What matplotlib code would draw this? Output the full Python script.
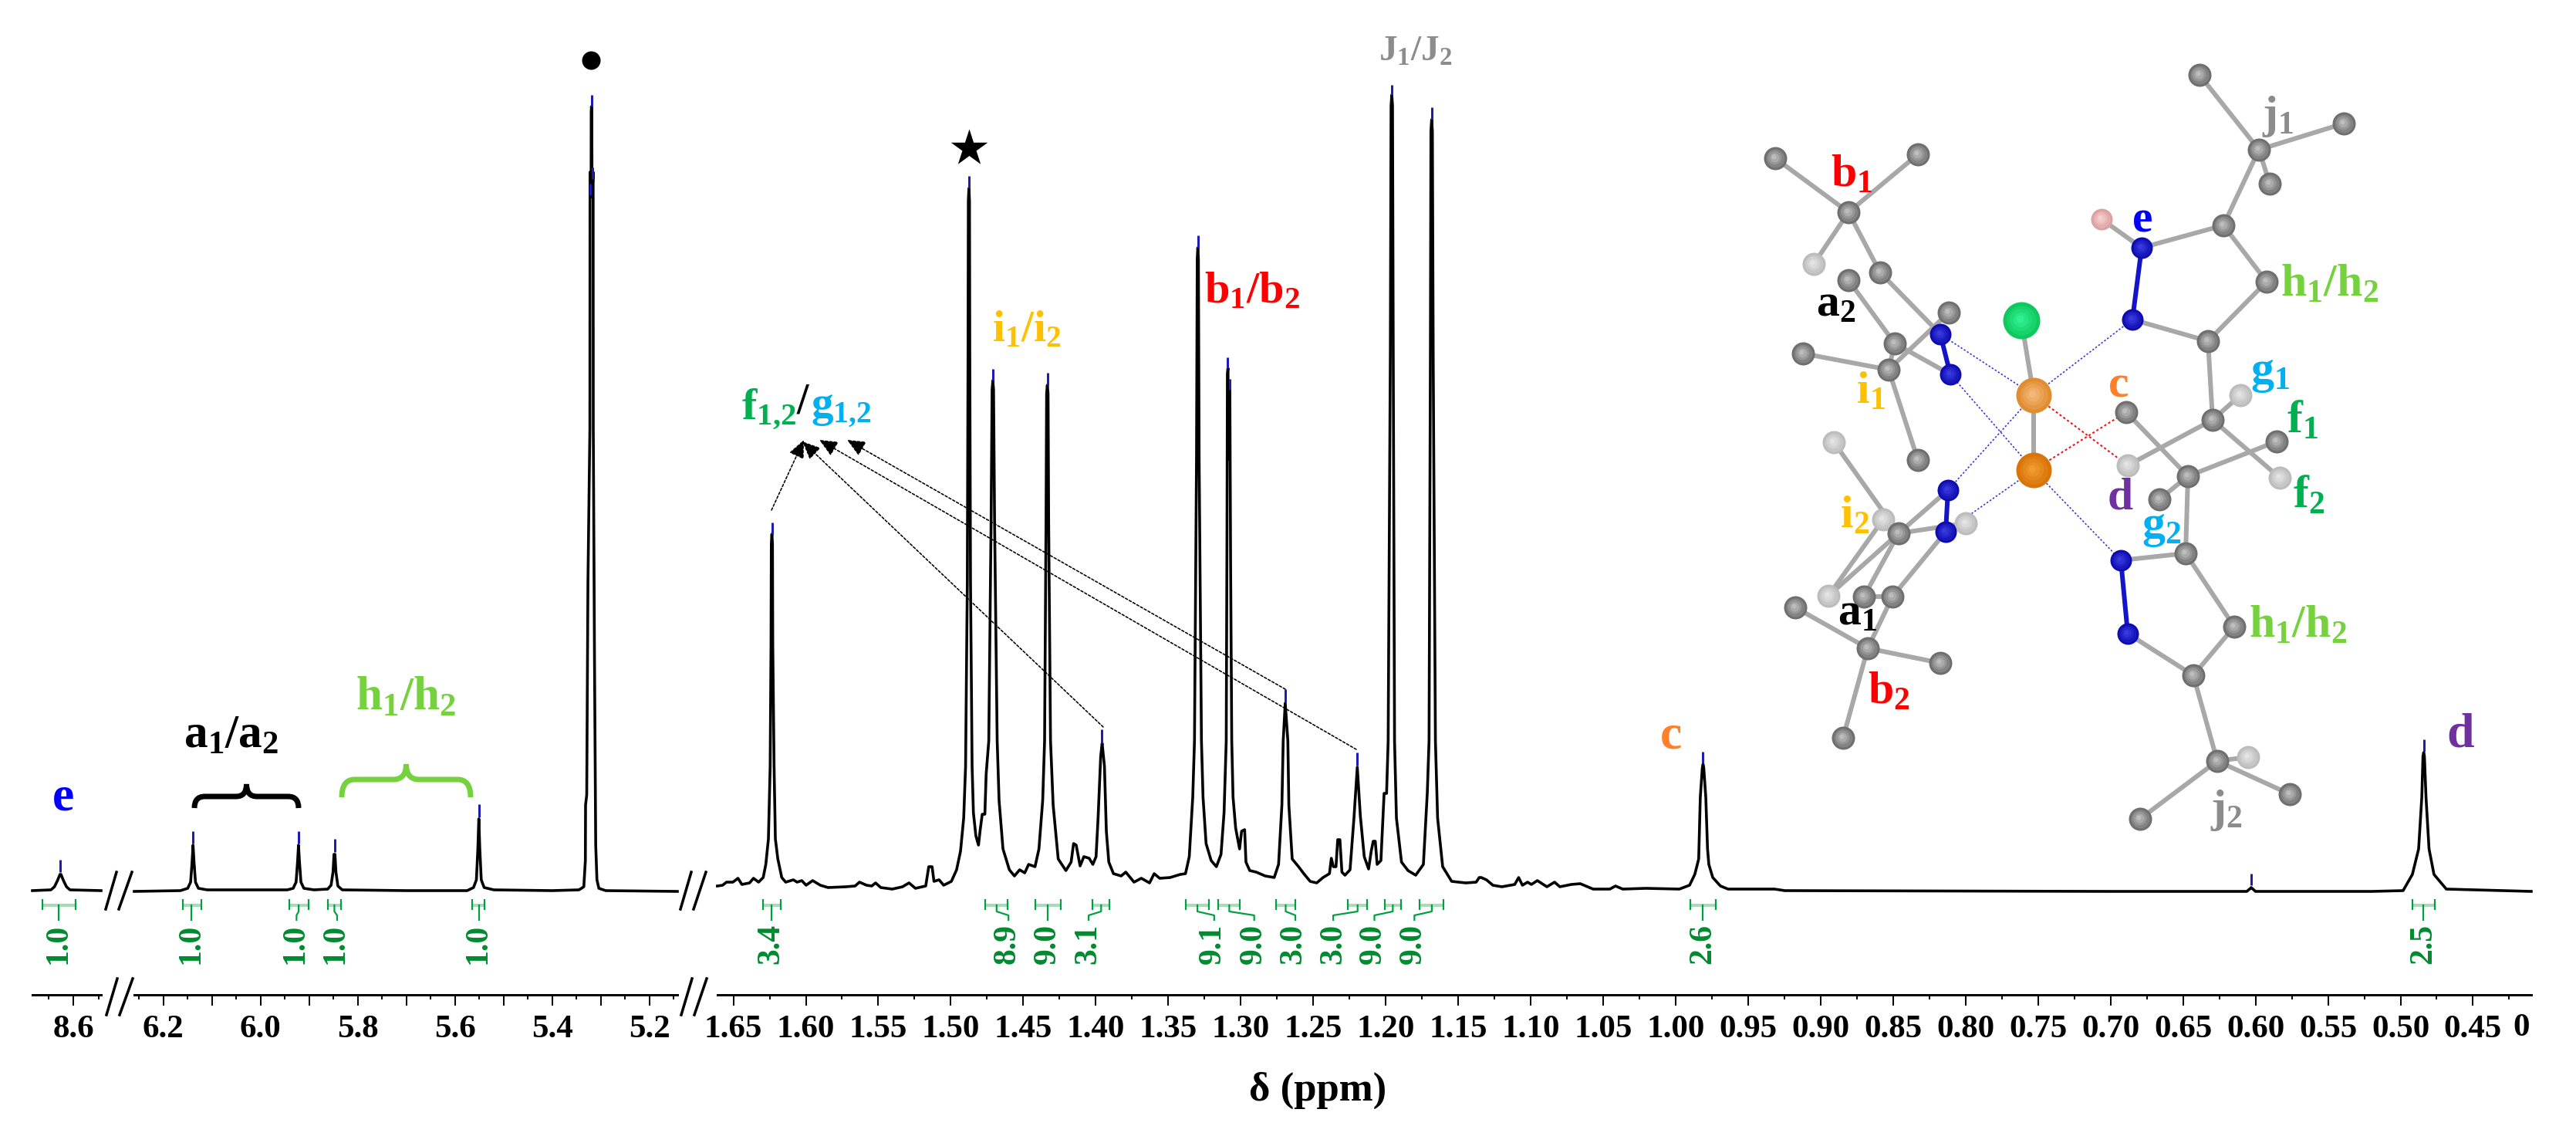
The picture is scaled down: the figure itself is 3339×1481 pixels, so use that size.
# coding=utf-8

import numpy as np
import matplotlib
matplotlib.use('Agg')
import matplotlib.pyplot as plt
from matplotlib.path import Path
from matplotlib.patches import PathPatch

plt.rcParams['font.family'] = ['Liberation Serif', 'DejaVu Serif']
plt.rcParams['font.weight'] = 'bold'
plt.rcParams['mathtext.fontset'] = 'custom'
plt.rcParams['mathtext.rm'] = 'Liberation Serif'
plt.rcParams['mathtext.bf'] = 'Liberation Serif:bold'
plt.rcParams['mathtext.it'] = 'Liberation Serif:italic'

W, H = 3339, 1481
AXIS_Y = 1289
BASE_Y = 1155

# spectrum traces, (ppm, intensity)
trace_far = [(8.682, 1), (8.645, 2), (8.638, 6), (8.632, 14), (8.627, 22), (8.625, 22), (8.620, 14),
             (8.614, 6), (8.607, 2), (8.545, 1)]

trace_mid = [(6.260, 0), (6.165, 1), (6.150, 4), (6.144, 12), (6.141, 38), (6.139, 60),
             (6.137, 38), (6.134, 12), (6.128, 4), (6.110, 2), (6.00, 2), (5.945, 2),
             (5.933, 4), (5.927, 12), (5.924, 38), (5.922, 60), (5.920, 38), (5.917, 12),
             (5.911, 4), (5.890, 2), (5.862, 3), (5.855, 8), (5.851, 25), (5.849, 48),
             (5.847, 48), (5.845, 25), (5.841, 7), (5.832, 2), (5.70, 1), (5.575, 1),
             (5.562, 5), (5.556, 15), (5.553, 55), (5.551, 94), (5.549, 55), (5.546, 15),
             (5.540, 5), (5.520, 2), (5.40, 1), (5.345, 2), (5.335, 6), (5.3318, 40),
             (5.3314, 112), (5.329, 125), (5.3265, 400), (5.3225, 600), (5.3222, 932),
             (5.3200, 900), (5.3198, 1010), (5.3192, 1017), (5.3186, 1010), (5.3180, 900),
             (5.3158, 932), (5.3155, 600),
             (5.3130, 300), (5.3105, 60), (5.308, 15), (5.304, 4), (5.29, 1), (5.1425, 0)]

trace_high = [(1.6610, 7), (1.6574, 8), (1.6547, 12), (1.6503, 12), (1.6468, 17), (1.6441, 9),
              (1.6388, 11), (1.6361, 17), (1.6326, 12), (1.6294, 18), (1.6276, 35), (1.6258, 68),
              (1.6246, 162), (1.6240, 320), (1.6238, 450), (1.6234, 463), (1.6230, 450), (1.6228, 320),
              (1.6219, 162),
              (1.6210, 68), (1.6193, 42), (1.6166, 18), (1.6139, 12), (1.6086, 15), (1.6060, 12),
              (1.6028, 14), (1.5998, 8), (1.5953, 14), (1.5900, 8), (1.5847, 5), (1.5723, 6),
              (1.5660, 7), (1.5630, 12), (1.5581, 8), (1.5545, 7), (1.5519, 11), (1.5483, 5),
              (1.5404, 3), (1.5333, 6), (1.5288, 11), (1.5244, 4), (1.5173, 7), (1.5152, 32),
              (1.5129, 32), (1.5116, 13), (1.5081, 15), (1.5049, 8), (1.4996, 13), (1.4960, 28),
              (1.4933, 52), (1.4911, 95), (1.4898, 162), (1.4886, 400), (1.4881, 700),
              (1.4879, 895), (1.4875, 911), (1.4871, 895), (1.4869, 700), (1.4864, 400), (1.4853, 162), (1.4844, 102),
              (1.4827, 72), (1.4809, 60), (1.4797, 80), (1.4783, 100), (1.4765, 100),
              (1.4756, 152), (1.4738, 195), (1.4722, 480), (1.4715, 650), (1.4710, 662), (1.4705, 650), (1.4698, 480),
              (1.4680, 195), (1.4667, 118), (1.4640, 55), (1.4596, 28), (1.4561, 20),
              (1.4525, 28), (1.4490, 24), (1.4463, 35), (1.4419, 32), (1.4392, 55),
              (1.4366, 118), (1.4353, 195), (1.4343, 480), (1.4339, 645), (1.4334, 656), (1.4329, 645), (1.4325, 480),
              (1.4312, 195), (1.4294, 112), (1.4259, 42), (1.4206, 27), (1.4170, 38),
              (1.4153, 62), (1.4135, 60), (1.4108, 33), (1.4082, 45), (1.4046, 43), (1.4020, 35),
              (1.3998, 45), (1.3984, 95), (1.3966, 175), (1.3956, 192), (1.3940, 162),
              (1.3927, 78), (1.3910, 38), (1.3878, 23), (1.3825, 20), (1.3793, 25), (1.3736, 12),
              (1.3686, 17), (1.3629, 11), (1.3597, 23), (1.3559, 17), (1.3487, 18), (1.3417, 22),
              (1.3381, 23), (1.3355, 45), (1.3331, 122), (1.3319, 195), (1.3305, 560),
              (1.3300, 820), (1.3296, 834), (1.3292, 820), (1.3287, 560), (1.3271, 195), (1.3260, 122), (1.3239, 62),
              (1.3204, 40), (1.3168, 32), (1.3136, 48), (1.3115, 102), (1.3100, 195),
              (1.3095, 450), (1.3092, 670), (1.3088, 678), (1.3082, 560), (1.3075, 650), (1.3070, 430),
              (1.3062, 195), (1.3053, 122), (1.3035, 82), (1.3008, 55), (1.2994, 78),
              (1.2973, 80), (1.2964, 38), (1.2938, 27), (1.2893, 25), (1.2831, 20), (1.2769, 18),
              (1.2739, 35), (1.2716, 112), (1.2707, 195), (1.2693, 244), (1.2675, 195),
              (1.2668, 112), (1.2645, 42), (1.2601, 32), (1.2565, 23), (1.2521, 13),
              (1.2476, 11), (1.2432, 18), (1.2388, 23), (1.2375, 43), (1.2361, 32), (1.2343, 32),
              (1.2331, 67), (1.2316, 67), (1.2302, 25), (1.2281, 21), (1.2246, 28), (1.2219, 95),
              (1.2196, 161), (1.2175, 98), (1.2148, 45), (1.2118, 29), (1.2100, 52),
              (1.2086, 65), (1.2072, 65), (1.2059, 35), (1.2033, 40), (1.2011, 127),
              (1.1994, 127), (1.1983, 195), (1.1968, 700), (1.1963, 1018), (1.1958, 1032), (1.1953, 1018), (1.1948, 700),
              (1.1939, 195), (1.1926, 95), (1.1891, 38), (1.1846, 27), (1.1793, 21),
              (1.1740, 35), (1.1713, 128), (1.1701, 195), (1.1692, 680), (1.1688, 985), (1.1683, 1000), (1.1678, 985),
              (1.1672, 680), (1.1657, 195), (1.1642, 95), (1.1607, 32), (1.1545, 13),
              (1.1447, 11), (1.1376, 12), (1.1355, 18), (1.1341, 18), (1.1305, 15), (1.1261, 8),
              (1.1199, 6), (1.1110, 9), (1.1083, 18), (1.1057, 8), (1.1021, 12), (1.0995, 9),
              (1.0954, 14), (1.0888, 6), (1.0835, 12), (1.0799, 6), (1.0720, 9), (1.0658, 10),
              (1.0569, 3), (1.0454, 3), (1.0415, 7), (1.0365, 3), (1.0205, 4), (0.9974, 3),
              (0.9904, 8), (0.9868, 22), (0.9841, 42), (0.9830, 122), (0.9816, 160), (0.9811, 165),
              (0.9806, 160), (0.9792, 122), (0.9780, 55), (0.9771, 35), (0.9744, 18), (0.9691, 7), (0.9638, 3),
              (0.9318, 3), (0.9247, 1), (0.7000, 0), (0.6060, 0), (0.6035, 4), (0.6030, 5),
              (0.6000, 0), (0.5200, 0), (0.4982, 1), (0.4918, 22), (0.4875, 55), (0.4853, 122),
              (0.4845, 175), (0.4840, 180), (0.4835, 175), (0.4824, 122), (0.4803, 55), (0.4769, 22), (0.4684, 3), (0.4098, 0)]

# blue peak picking marks, (ppm, low, high)
picks_far = [(8.626, 25, 41)]
picks_mid = [(6.139, 62, 78), (5.922, 62, 78), (5.848, 51, 68), (5.551, 96, 113),
             (5.3192, 1017, 1032), (5.3171, 923, 938), (5.3214, 902, 917)]
picks_high = [(1.6234, 463, 478), (1.4875, 911, 927), (1.471, 662, 677), (1.4334, 656, 672),
              (1.3957, 192, 210), (1.3296, 834, 850), (1.3090, 678, 692), (1.3075, 650, 664),
              (1.2693, 245, 262), (1.2195, 163, 180), (1.1958, 1032, 1045), (1.1683, 1000, 1016),
              (0.9811, 166, 181), (0.603, 8, 23), (0.484, 181, 197)]

# integrals, (label, left, right, stem top, stem bottom, label ppm)
integrals_far = [('1.0', 8.6626, 8.5957, 8.630, 8.630, 8.630)]
integrals_mid = [('1.0', 6.1600, 6.1221, 6.1433, 6.1433, 6.1433),
                 ('1.0', 5.9406, 5.9017, 5.9217, 5.9261, 5.9284),
                 ('1.0', 5.8616, 5.8348, 5.8482, 5.8426, 5.8460),
                 ('1.0', 5.5642, 5.5386, 5.5509, 5.5509, 5.5520)]
integrals_high = [('3.4', 1.6295, 1.6172, 1.6235, 1.6235, 1.6239),
                  ('8.9', 1.4762, 1.4606, 1.4684, 1.4602, 1.4613),
                  ('9.0', 1.4419, 1.4240, 1.4329, 1.4329, 1.4333),
                  ('3.1', 1.4023, 1.3904, 1.3963, 1.4049, 1.4053),
                  ('9.1', 1.3381, 1.3220, 1.3299, 1.3183, 1.3191),
                  ('9.0', 1.3153, 1.3004, 1.3079, 1.2907, 1.2914),
                  ('3.0', 1.2757, 1.2623, 1.2690, 1.2623, 1.2638),
                  ('3.0', 1.2261, 1.2130, 1.2194, 1.2362, 1.2362),
                  ('9.0', 1.2007, 1.1895, 1.1951, 1.2078, 1.2089),
                  ('9.0', 1.1764, 1.1600, 1.1682, 1.1802, 1.1809),
                  ('2.6', 0.9899, 0.9722, 0.9811, 0.9811, 0.9811),
                  ('2.5', 0.4916, 0.4761, 0.4841, 0.4841, 0.4841)]

ticks_far = [8.6]
ticks_mid = [6.2, 6.1, 6.0, 5.9, 5.8, 5.7, 5.6, 5.5, 5.4, 5.3, 5.2]
labels_mid = ['6.2', '', '6.0', '', '5.8', '', '5.6', '', '5.4', '', '5.2']
ticks_high = [1.65, 1.60, 1.55, 1.50, 1.45, 1.40, 1.35, 1.30, 1.25, 1.20, 1.15, 1.10, 1.05,
              1.00, 0.95, 0.90, 0.85, 0.80, 0.75, 0.70, 0.65, 0.60, 0.55, 0.50, 0.45]

# molecule inset, pixel positions of the atoms
atoms = {
    'r1': (2851, 97, 'c'), 'r2': (3038, 160, 'c'), 'r3': (2942, 238, 'c'), 'r4': (2928, 194, 'c'),
    'r5': (2882, 292, 'c'), 'r6': (2938, 365, 'c'), 'r7': (2862, 442, 'c'), 'r8': (2868, 544, 'c'),
    'r9': (2904, 512, 'l'), 'r10': (2951, 572, 'c'), 'r11': (2955, 619, 'l'), 'r12': (2758, 603, 'l'),
    'r13': (2756, 534, 'c'), 'r14': (2836, 617, 'c'), 'r15': (2799, 647, 'c'), 'r16': (2833, 717, 'c'),
    'r17': (2896, 812, 'c'), 'r18': (2843, 875, 'c'), 'r19': (2874, 986, 'c'), 'r20': (2914, 981, 'l'),
    'r21': (2968, 1029, 'c'), 'r22': (2774, 1061, 'c'),
    'l1': (2301, 205, 'c'), 'l2': (2486, 200, 'c'), 'l3': (2351, 342, 'l'), 'l4': (2396, 275, 'c'),
    'l5': (2437, 353, 'c'), 'l6': (2396, 363, 'c'), 'l7': (2456, 445, 'c'), 'l8': (2526, 405, 'c'),
    'l9': (2337, 458, 'c'), 'l10': (2448, 479, 'c'), 'l11': (2486, 596, 'c'), 'l12': (2377, 573, 'l'),
    'l13': (2441, 673, 'l'), 'l14': (2461, 691, 'c'), 'l15': (2548, 678, 'l'), 'l16': (2370, 772, 'l'),
    'l17': (2416, 773, 'c'), 'l18': (2453, 773, 'c'), 'l19': (2327, 787, 'c'), 'l20': (2421, 840, 'c'),
    'l21': (2515, 859, 'c'), 'l22': (2389, 956, 'c'),
    'n1': (2776, 321, 'n'), 'n2': (2764, 414, 'n'), 'n3': (2749, 726, 'n'), 'n4': (2758, 821, 'n'),
    'n5': (2515, 433, 'n'), 'n6': (2528, 485, 'n'), 'n7': (2525, 635, 'n'), 'n8': (2522, 689, 'n'),
    'h': (2724, 284, 'h'), 'cl': (2620, 415, 'cl'), 'pd1': (2636, 512, 'pd1'), 'pd2': (2636, 609, 'pd2'),
}
bonds = [('r4', 'r1'), ('r4', 'r2'), ('r4', 'r3'), ('r4', 'r5'), ('r5', 'r6'), ('r6', 'r7'), ('r7', 'n2'),
         ('n1', 'r5'), ('n1', 'h'), ('r7', 'r8'), ('r8', 'r9'), ('r8', 'r11'), ('r8', 'r12'), ('r14', 'r10'),
         ('r14', 'r13'), ('r14', 'r15'), ('r14', 'r16'), ('r16', 'n3'), ('r16', 'r17'), ('r17', 'r18'),
         ('r18', 'n4'), ('r18', 'r19'), ('r19', 'r20'), ('r19', 'r21'), ('r19', 'r22'),
         ('l4', 'l1'), ('l4', 'l2'), ('l4', 'l3'), ('l4', 'l5'), ('l5', 'n5'), ('l6', 'l7'), ('l7', 'n6'),
         ('l10', 'l9'), ('l10', 'l8'), ('l10', 'l11'), ('l10', 'l7'),
         ('n7', 'l14'), ('l14', 'l12'), ('l14', 'l13'), ('l14', 'l15'), ('l14', 'l16'), ('l14', 'l17'),
         ('n8', 'l18'), ('l18', 'l17'), ('l18', 'l20'), ('l20', 'l19'), ('l20', 'l21'), ('l20', 'l22'),
         ('l13', 'l16'), ('pd1', 'pd2'), ('pd1', 'cl')]
bonds_nn = [('n1', 'n2'), ('n3', 'n4'), ('n5', 'n6'), ('n7', 'n8')]
bonds_blue = [('pd1', 'n5'), ('pd1', 'n2'), ('pd1', 'n7'), ('pd2', 'n6'), ('pd2', 'n8'), ('pd2', 'n3')]
bonds_red = [('pd1', 'r12'), ('pd2', 'r13')]
atom_style = {'c': ('#6f6f6f', '#bdbdbd', 30), 'l': ('#bcbcbc', '#e4e4e4', 30),
              'n': ('#0c0cb0', '#3a3ae0', 28), 'h': ('#dca0a0', '#f4d0d0', 28),
              'cl': ('#10c860', '#30f090', 48), 'pd1': ('#e08c30', '#f4b878', 46),
              'pd2': ('#d87408', '#f09a30', 46)}

# labels on the spectrum and the molecule, (text, x, y, colour, size)
GREEN = '#00b050'
LIME = '#76d13e'
SKY = '#00b0f0'
YELLOW = '#ffc000'
ORANGE = '#ff7f2a'
PURPLE = '#7030a0'
GREY = '#8c8c8c'
labels_spectrum = [(r'$\mathbf{e}$', 81, 1034, 'blue', 46),
                   (r'$\mathbf{a_1/a_2}$', 300, 954, 'black', 44),
                   (r'$\mathbf{h_1/h_2}$', 526, 905, LIME, 44),
                   (r'$\mathbf{c}$', 2165, 955, ORANGE, 46),
                   (r'$\mathbf{d}$', 3189, 953, PURPLE, 46),
                   (r'$\mathbf{J_1/J_2}$', 1835, 68, GREY, 34),
                   (r'$\mathbf{b_1/b_2}$', 1623, 378, 'red', 42),
                   (r'$\mathbf{i_1/i_2}$', 1331, 428, YELLOW, 41),
                   (r'$\mathbf{f_{1{,}2}}$', 997, 530, GREEN, 42),
                   (r'$\mathbf{/}$', 1041, 521, 'black', 40),
                   (r'$\mathbf{g_{1{,}2}}$', 1091, 530, SKY, 41)]
labels_molecule = [(r'$\mathbf{j_1}$', 2953, 151, GREY), (r'$\mathbf{b_1}$', 2400, 228, 'red'),
                   (r'$\mathbf{e}$', 2776, 286, 'blue'), (r'$\mathbf{h_1/h_2}$', 3020, 370, LIME),
                   (r'$\mathbf{a_2}$', 2380, 396, 'black'), (r'$\mathbf{g_1}$', 2943, 484, SKY),
                   (r'$\mathbf{i_1}$', 2425, 509, YELLOW), (r'$\mathbf{c}$', 2746, 499, ORANGE),
                   (r'$\mathbf{f_1}$', 2985, 547, GREEN), (r'$\mathbf{f_2}$', 2993, 644, GREEN),
                   (r'$\mathbf{d}$', 2748, 645, PURPLE), (r'$\mathbf{g_2}$', 2802, 684, SKY),
                   (r'$\mathbf{i_2}$', 2404, 670, YELLOW), (r'$\mathbf{h_1/h_2}$', 2979, 812, LIME),
                   (r'$\mathbf{a_1}$', 2408, 796, 'black'), (r'$\mathbf{b_2}$', 2448, 898, 'red'),
                   (r'$\mathbf{j_2}$', 2886, 1050, GREY)]

# arrows from the f/g peaks up to their label, (start x, start y, tip x, tip y)
arrows = [(1000, 661, 1042, 570), (1430, 942, 1040, 572), (1758, 971, 1062, 570), (1666, 893, 1098, 570)]

# double slash marks, x of top and bottom ends
break_marks = [(151, 137), (171, 154), (896, 882), (915, 899)]


def px(n):
    return n * 0.72


def make_segment(fig, x0, x1, ppm_left, ppm_right):
    ax = fig.add_axes([x0 / W, (H - AXIS_Y) / H, (x1 - x0) / W, AXIS_Y / H])
    ax.patch.set_alpha(0)
    ax.set_xlim(ppm_left, ppm_right)
    ax.set_ylim(BASE_Y - AXIS_Y, BASE_Y)
    for side in ['top', 'left', 'right']:
        ax.spines[side].set_visible(False)
    ax.spines['bottom'].set_linewidth(px(3))
    ax.set_yticks([])
    return ax


def set_ticks(ax, major, labels, minor):
    ax.set_xticks(major)
    ax.set_xticklabels(labels, fontsize=31, fontweight='bold')
    ax.set_xticks(minor, minor=True)
    ax.tick_params(axis='x', which='major', length=px(14), width=px(2), pad=px(12))
    ax.tick_params(axis='x', which='minor', length=px(6), width=px(2))


def draw_trace(ax, trace, picks, integrals):
    data = np.array(trace)
    ax.plot(data[:, 0], data[:, 1], color='black', lw=px(3.6), solid_joinstyle='round', clip_on=False)
    for ppm, low, high in picks:
        ax.plot([ppm, ppm], [low, high], color='#1c1cb4', lw=px(3), solid_capstyle='butt', clip_on=False)
    for label, left, right, top, bottom, text_ppm in integrals:
        ax.plot([left, right], [-18, -18], color='#a8dcb8', lw=px(4), solid_capstyle='butt')
        for end in (left, right):
            ax.plot([end, end], [-10, -24], color='#00a040', lw=px(2.2), solid_capstyle='butt')
        ax.plot([top, top, bottom, bottom], [-18, -26, -31, -37], color='#00a040', lw=px(2.2))
        ax.text(text_ppm, -68, label, rotation=90, ha='center', va='center', color='#008a2e',
                fontsize=30, fontweight='bold')


def draw_brace(ax, x0, x1, y_end, y_flat, y_tip, color, lw):
    xm = (x0 + x1) / 2
    w = (x1 - x0) * 0.1
    verts = [(x0, y_end), (x0, y_flat), (x0 + w, y_flat), (xm - w, y_flat), (xm, y_flat), (xm, y_tip),
             (xm, y_flat), (xm + w, y_flat), (x1 - w, y_flat), (x1, y_flat), (x1, y_end)]
    codes = [Path.MOVETO, Path.CURVE3, Path.CURVE3, Path.LINETO, Path.CURVE3, Path.CURVE3,
             Path.CURVE3, Path.CURVE3, Path.LINETO, Path.CURVE3, Path.CURVE3]
    ax.add_patch(PathPatch(Path(verts, codes), fill=False, edgecolor=color, lw=px(lw), capstyle='butt'))


def draw_molecule(ax):
    for a, b in bonds:
        ax.plot([atoms[a][0], atoms[b][0]], [atoms[a][1], atoms[b][1]], color='#a8a8a8', lw=px(6), zorder=2)
    for a, b in bonds_nn:
        ax.plot([atoms[a][0], atoms[b][0]], [atoms[a][1], atoms[b][1]], color='#1414c8', lw=px(6), zorder=2)
    for a, b in bonds_blue:
        ax.plot([atoms[a][0], atoms[b][0]], [atoms[a][1], atoms[b][1]], color='#3030e0', lw=px(1.6),
                ls=(0, (1.5, 1.5)), zorder=2)
    for a, b in bonds_red:
        ax.plot([atoms[a][0], atoms[b][0]], [atoms[a][1], atoms[b][1]], color='#f01010', lw=px(2),
                ls=(0, (1.5, 1.5)), zorder=2)
    for x, y, kind in atoms.values():
        edge, core, size = atom_style[kind]
        # rough sphere shading with a few nested discs
        for frac, mix in zip([1.0, 0.8, 0.6, 0.4, 0.2], [0.0, 0.25, 0.5, 0.75, 1.0]):
            rgb = (1 - mix) * np.array(matplotlib.colors.to_rgb(edge)) + mix * np.array(matplotlib.colors.to_rgb(core))
            ax.scatter(x - 2 * mix, y - 2 * mix, s=(px(size) * frac) ** 2, color=[rgb], lw=0, zorder=3)


fig = plt.figure(figsize=(W / 100, H / 100), dpi=100)

seg_far = make_segment(fig, 42, 131, 8.682, 8.545)
seg_mid = make_segment(fig, 174, 878, 6.260, 5.1425)
seg_high = make_segment(fig, 929.5, 3281, 1.6612, 0.4098)

set_ticks(seg_far, ticks_far, ['8.6'], [8.65, 8.55])
set_ticks(seg_mid, ticks_mid, labels_mid, np.arange(5.15, 6.26, 0.1))
set_ticks(seg_high, ticks_high, ['%.2f' % t for t in ticks_high], np.arange(0.425, 1.65, 0.05))

draw_trace(seg_far, trace_far, picks_far, integrals_far)
draw_trace(seg_mid, trace_mid, picks_mid, integrals_mid)
draw_trace(seg_high, trace_high, picks_high, integrals_high)

# overlay in image pixels for everything that is not on a ppm scale
over = fig.add_axes([0, 0, 1, 1])
over.patch.set_alpha(0)
over.set_xlim(0, W)
over.set_ylim(H, 0)
over.axis('off')

over.text(3268, 1332, '0', ha='center', va='center', fontsize=31, fontweight='bold')
over.text(1708, 1413, '\u03b4 (ppm)', ha='center', va='center', fontsize=38, fontweight='bold')

for top_x, bottom_x in break_marks:
    over.plot([top_x, bottom_x], [1130, 1178], color='black', lw=px(3.5))
    over.plot([top_x + 1, bottom_x + 1], [1268, 1315], color='black', lw=px(3.5))

draw_brace(over, 252, 387, 1047, 1032, 1016, 'black', 7)
draw_brace(over, 443, 610, 1033, 1010, 990, LIME, 7)

over.scatter([766], [78], s=px(24) ** 2, color='black', lw=0)
over.scatter([1256], [192], s=px(50) ** 2, color='black', marker='*', lw=0)

for text, x, y, color, size in labels_spectrum:
    over.text(x, y, text, ha='center', va='center', color=color, fontsize=size)

for x0, y0, x1, y1 in arrows:
    over.annotate('', xy=(x1, y1), xytext=(x0, y0),
                  arrowprops=dict(arrowstyle='-|>,head_length=0.9,head_width=0.4', color='black',
                                  lw=px(1.6), ls=(0, (2, 1.5)), shrinkA=0, shrinkB=0, mutation_scale=16))

draw_molecule(over)

for text, x, y, color in labels_molecule:
    over.text(x, y, text, ha='center', va='center', color=color, fontsize=43, zorder=5)

fig.savefig('out.png', dpi=100)
